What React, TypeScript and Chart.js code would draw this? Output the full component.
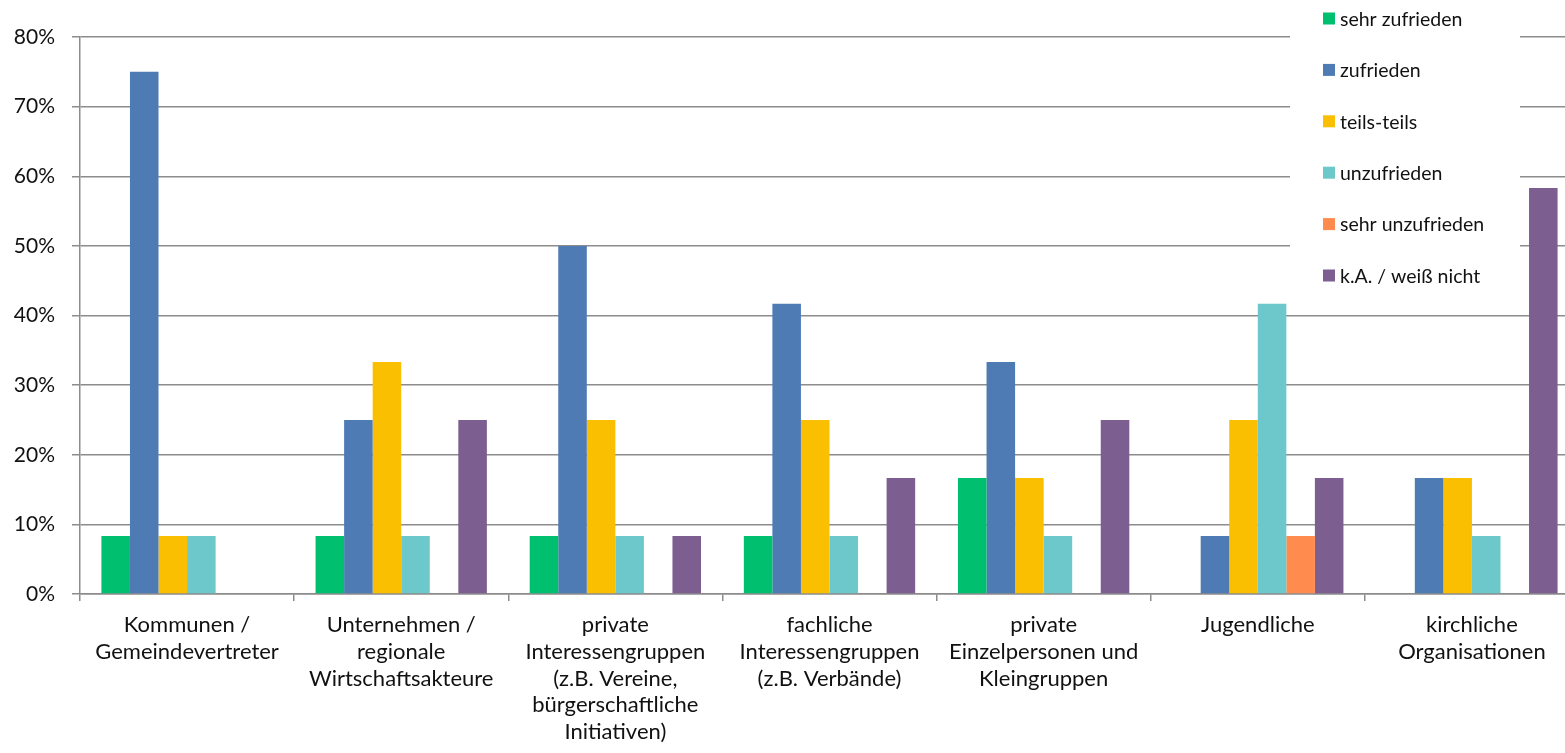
import React, { useEffect, useRef } from "react";
import { Chart, registerables } from "chart.js";

Chart.register(...registerables);

const categories: string[][] = [
  ["Kommunen /", "Gemeindevertreter"],
  ["Unternehmen /", "regionale", "Wirtschaftsakteure"],
  ["private", "Interessengruppen", "(z.B. Vereine,", "bürgerschaftliche", "Initiativen)"],
  ["fachliche", "Interessengruppen", "(z.B. Verbände)"],
  ["private", "Einzelpersonen und", "Kleingruppen"],
  ["Jugendliche"],
  ["kirchliche", "Organisationen"],
];

const seriesNames = [
  "sehr zufrieden",
  "zufrieden",
  "teils-teils",
  "unzufrieden",
  "sehr unzufrieden",
  "k.A. / weiß nicht",
];

const sehrZufrieden = [8.33, 8.33, 8.33, 8.33, 16.67, 0, 0];
const zufrieden = [75, 25, 50, 41.67, 33.33, 8.33, 16.67];
const teilsTeils = [8.33, 33.33, 25, 25, 16.67, 25, 16.67];
const unzufrieden = [8.33, 8.33, 8.33, 8.33, 8.33, 41.67, 8.33];
const sehrUnzufrieden = [0, 0, 0, 0, 0, 8.33, 0];
const keineAngabe = [0, 25, 8.33, 16.67, 25, 16.67, 58.33];

const seriesColors = ["#00BF6F", "#4F7BB5", "#F9BF00", "#6DC8CB", "#FF8B4F", "#7D5E90"];

const yMin = 0;
const yMax = 80;
const yStep = 10;

const FONT = "Lato, 'Open Sans', sans-serif";

const legendPlugin = {
  id: "customLegend",
  beforeDatasetsDraw(chart: any) {
    const ctx = chart.ctx;
    ctx.save();
    ctx.fillStyle = "#ffffff";
    ctx.fillRect(1290, 0, 230, 296);
    const startY = 18.5;
    const gap = 51.4;
    ctx.font = `19.5px ${FONT}`;
    ctx.textBaseline = "middle";
    ctx.textAlign = "left";
    chart.data.datasets.forEach((ds: any, i: number) => {
      const y = startY + i * gap;
      ctx.fillStyle = ds.backgroundColor;
      ctx.fillRect(1323, y - 6, 12, 12);
      ctx.fillStyle = "#111111";
      ctx.fillText(ds.label, 1340, y + 1);
    });
    ctx.restore();
  },
};

export default function App() {
  const canvasRef = useRef<HTMLCanvasElement | null>(null);

  useEffect(() => {
    if (!canvasRef.current) return;
    const values = [sehrZufrieden, zufrieden, teilsTeils, unzufrieden, sehrUnzufrieden, keineAngabe];
    const chart = new Chart(canvasRef.current, {
      type: "bar",
      data: {
        labels: categories,
        datasets: seriesNames.map((name, i) => ({
          label: name,
          data: values[i],
          backgroundColor: seriesColors[i],
          borderWidth: 0,
          barPercentage: 1.0,
          categoryPercentage: 0.8,
        })),
      },
      options: {
        animation: false,
        responsive: false,
        devicePixelRatio: 1,
        layout: { padding: { top: 37, left: 0, right: 0, bottom: 0 } },
        plugins: {
          legend: { display: false },
          tooltip: { enabled: false },
        },
        scales: {
          x: {
            afterFit: (scale: any) => {
              scale.height = 753 - 37 - 557;
            },
            grid: {
              display: true,
              offset: true,
              drawOnChartArea: false,
              drawTicks: true,
              tickLength: 7,
              color: "#8c8c8c",
              lineWidth: 1.5,
            },
            border: { display: true, color: "#8c8c8c", width: 1.5 },
            ticks: {
              color: "#111111",
              font: { family: FONT, size: 22, lineHeight: 1.213 },
              padding: 11,
              maxRotation: 0,
              autoSkip: false,
            },
          },
          y: {
            min: yMin,
            max: yMax,
            afterFit: (scale: any) => {
              scale.width = 80;
            },
            grid: {
              color: "#8c8c8c",
              lineWidth: 1.5,
              drawTicks: true,
              tickLength: 8,
            },
            border: { display: true, color: "#8c8c8c", width: 1.5 },
            ticks: {
              stepSize: yStep,
              color: "#111111",
              font: { family: FONT, size: 21 },
              padding: 17,
              callback: (v: any) => `${v}%`,
            },
          },
        },
      },
      plugins: [legendPlugin],
    });
    return () => chart.destroy();
  }, []);

  return (
    <div
      style={{
        position: "fixed",
        top: 0,
        left: 0,
        width: "100vw",
        height: "100vh",
        overflow: "hidden",
        background: "#ffffff",
      }}
    >
      <canvas
        ref={canvasRef}
        width={1579}
        height={753}
        style={{ display: "block", width: "1579px", height: "753px" }}
      />
    </div>
  );
}
